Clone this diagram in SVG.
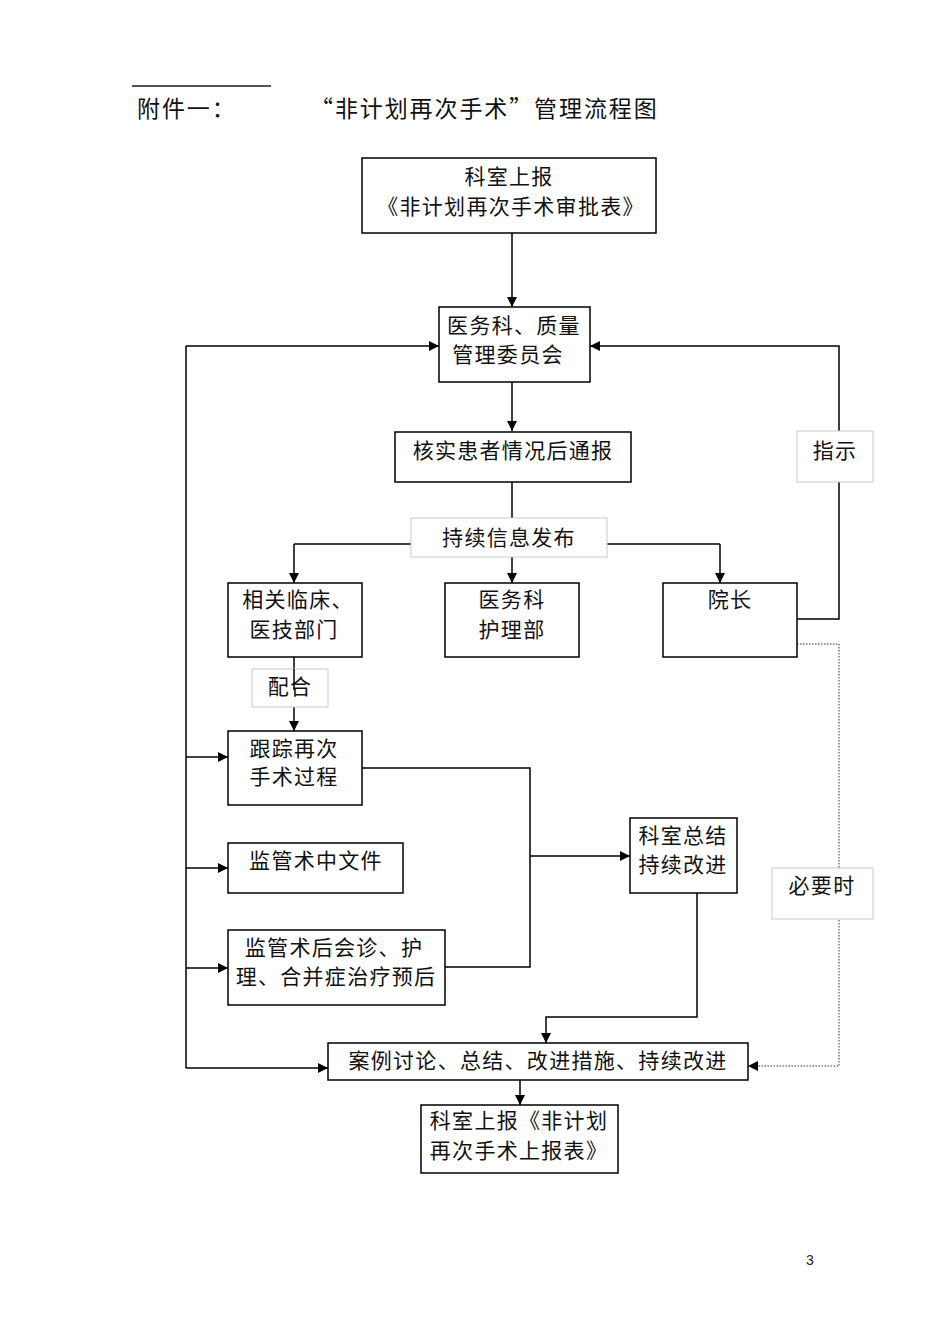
<svg xmlns="http://www.w3.org/2000/svg" width="950" height="1344" viewBox="0 0 950 1344">
  <defs>
    <marker id="arr" viewBox="0 0 10 10" refX="10" refY="5" markerWidth="10" markerHeight="10" markerUnits="userSpaceOnUse" orient="auto">
      <path d="M0,0 L10,5 L0,10 z" fill="#000"/>
    </marker>
    <style>
      .box { fill: #fff; stroke: #000; stroke-width: 1.5; }
      .lbl { fill: #fff; stroke: #c8c8c8; stroke-width: 1; }
      .t { font-family: "Noto Sans CJK SC", "Liberation Serif", serif; font-size: 21px; letter-spacing: 1.3px; fill: #111; text-anchor: middle; }
      .ttl { font-family: "Noto Sans CJK SC", "Liberation Serif", serif; font-size: 23px; letter-spacing: 1.9px; fill: #111; }
      .ln { fill: none; stroke: #000; stroke-width: 1.5; }
      .ar { fill: none; stroke: #000; stroke-width: 1.5; marker-end: url(#arr); }
      .dot { fill: none; stroke: #777; stroke-width: 1.5; stroke-dasharray: 1.5 1.5; marker-end: url(#arr); }
    </style>
  </defs>
  <rect width="950" height="1344" fill="#fff"/>

  <!-- heading -->
  <g id="heading">
    <line x1="132" y1="86" x2="271" y2="86" stroke="#555" stroke-width="2"/>
    <text class="ttl" x="137" y="117">附件一：</text>
    <text class="ttl" x="310" y="117">“非计划再次手术”管理流程图</text>
  </g>

  <!-- connectors -->
  <g id="connectors">
    <path class="ar" d="M512,233 V307"/>
    <path class="ar" d="M512,382 V431"/>
    <path class="ln" d="M512,482 V544"/>
    <path class="ln" d="M294,544 H720"/>
    <path class="ar" d="M294,544 V583"/>
    <path class="ar" d="M512,544 V583"/>
    <path class="ar" d="M720,544 V583"/>
    <path class="ar" d="M797,619 H839 V346 H590"/>
    <path class="dot" d="M797,644 H839 V1066 H748"/>
    <path class="ar" d="M294,657 V731"/>
    <path class="ln" d="M186,346 V1068"/>
    <path class="ar" d="M186,346 H439"/>
    <path class="ar" d="M186,757 H228"/>
    <path class="ar" d="M186,868 H228"/>
    <path class="ar" d="M186,968 H228"/>
    <path class="ar" d="M186,1068 H328"/>
    <path class="ln" d="M362,768 H530 V967 H445"/>
    <path class="ar" d="M530,856 H630"/>
    <path class="ar" d="M697,893 V1017 H546 V1043"/>
    <path class="ar" d="M520,1080 V1105"/>
  </g>

  <!-- connector labels -->
  <g id="label-publish">
    <rect class="lbl" x="411" y="518" width="196" height="39"/>
    <text class="t" x="509" y="545">持续信息发布</text>
  </g>
  <g id="label-instruct">
    <rect class="lbl" x="797" y="431" width="76" height="51"/>
    <text class="t" x="835" y="458">指示</text>
  </g>
  <g id="label-cooperate">
    <rect class="lbl" x="252" y="669" width="76" height="38"/>
    <text class="t" x="290" y="694">配合</text>
    <path class="ln" d="M294,669 V690"/>
  </g>
  <g id="label-necessary">
    <rect class="lbl" x="772" y="868" width="101" height="51"/>
    <text class="t" x="822" y="893">必要时</text>
  </g>

  <!-- nodes -->
  <g id="n-report">
    <rect class="box" x="362" y="158" width="294" height="75"/>
    <text class="t" x="509" y="184">科室上报</text>
    <text class="t" x="511" y="214">《非计划再次手术审批表》</text>
  </g>
  <g id="n-committee">
    <rect class="box" x="439" y="307" width="151" height="75"/>
    <text class="t" x="514" y="333">医务科、质量</text>
    <text class="t" x="508" y="362">管理委员会</text>
  </g>
  <g id="n-verify">
    <rect class="box" x="395" y="432" width="236" height="50"/>
    <text class="t" x="513" y="458">核实患者情况后通报</text>
  </g>
  <g id="n-clinical">
    <rect class="box" x="228" y="583" width="134" height="74"/>
    <text class="t" x="298" y="607">相关临床、</text>
    <text class="t" x="294" y="637">医技部门</text>
  </g>
  <g id="n-nursing">
    <rect class="box" x="445" y="583" width="134" height="74"/>
    <text class="t" x="512" y="607">医务科</text>
    <text class="t" x="512" y="637">护理部</text>
  </g>
  <g id="n-president">
    <rect class="box" x="663" y="583" width="134" height="74"/>
    <text class="t" x="730" y="607">院长</text>
  </g>
  <g id="n-track">
    <rect class="box" x="228" y="731" width="134" height="74"/>
    <text class="t" x="294" y="756">跟踪再次</text>
    <text class="t" x="294" y="784">手术过程</text>
  </g>
  <g id="n-intraop">
    <rect class="box" x="228" y="843" width="175" height="50"/>
    <text class="t" x="316" y="868">监管术中文件</text>
  </g>
  <g id="n-postop">
    <rect class="box" x="228" y="930" width="217" height="75"/>
    <text class="t" x="334" y="955">监管术后会诊、护</text>
    <text class="t" x="336" y="984">理、合并症治疗预后</text>
  </g>
  <g id="n-summary">
    <rect class="box" x="630" y="818" width="107" height="75"/>
    <text class="t" x="683" y="843">科室总结</text>
    <text class="t" x="683" y="872">持续改进</text>
  </g>
  <g id="n-discuss">
    <rect class="box" x="328" y="1043" width="420" height="37"/>
    <text class="t" x="538" y="1068">案例讨论、总结、改进措施、持续改进</text>
  </g>
  <g id="n-final">
    <rect class="box" x="421" y="1105" width="197" height="68"/>
    <text class="t" x="519" y="1128">科室上报《非计划</text>
    <text class="t" x="519" y="1158">再次手术上报表》</text>
  </g>

  <text x="810" y="1265" font-family="Liberation Sans, sans-serif" font-size="14" fill="#222" text-anchor="middle">3</text>
</svg>
